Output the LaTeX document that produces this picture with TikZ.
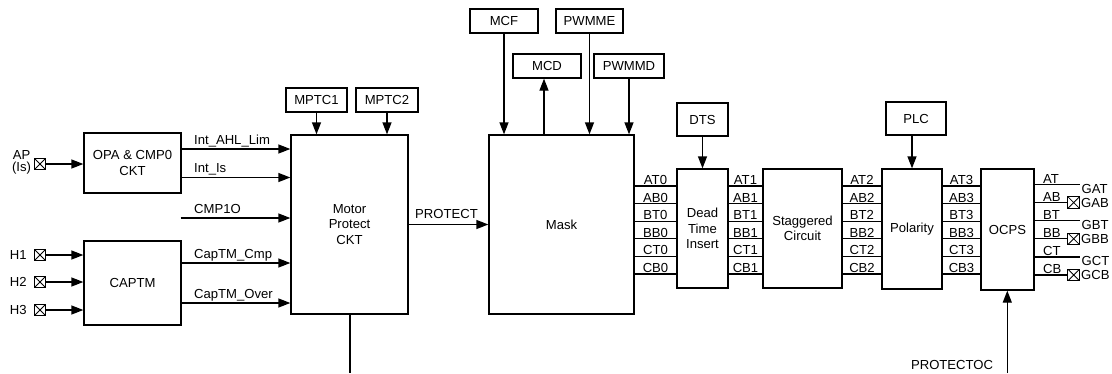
\documentclass[tikz,border=0pt]{standalone}
\usepackage{fontspec}
\setmainfont{Liberation Sans}
\usetikzlibrary{arrows.meta}
\begin{document}
\begin{tikzpicture}[x=1pt,y=-1pt,
  font=\fontsize{13.1}{15.3}\selectfont,
  ln/.style={line width=1.3pt},
  arr/.style={line width=1.3pt,-{Triangle[length=12pt,width=9pt]}},
  blk/.style={draw,line width=1.3pt,inner sep=0pt,align=center},
  lbl/.style={inner sep=0pt},
  xb/.style={draw,line width=1pt,minimum size=11.5pt,inner sep=0pt,
    path picture={\draw[line width=0.8pt] (path picture bounding box.north west) -- (path picture bounding box.south east)
      (path picture bounding box.north east) -- (path picture bounding box.south west);}}
]
\useasboundingbox (0,0) rectangle (1112,373);

% blocks
\node[blk,minimum width=97pt,minimum height=60pt] (opa) at (132.5,163) {OPA \& CMP0\\CKT};
\node[blk,minimum width=97pt,minimum height=84pt] (captm) at (132.5,283) {CAPTM};
\node[blk,minimum width=117pt,minimum height=179pt] (motor) at (349.5,224.5) {Motor\\Protect\\CKT};
\node[blk,minimum width=61pt,minimum height=24pt] (mptc1) at (316.5,100) {MPTC1};
\node[blk,minimum width=62pt,minimum height=24pt] (mptc2) at (387,100) {MPTC2};
\node[blk,minimum width=145pt,minimum height=179pt] (mask) at (561.5,224.5) {Mask};
\node[blk,minimum width=68pt,minimum height=24pt] (mcf) at (504,21) {MCF};
\node[blk,minimum width=67pt,minimum height=24pt] (pwmme) at (589.5,21) {PWMME};
\node[blk,minimum width=68pt,minimum height=24pt] (mcd) at (547,66) {MCD};
\node[blk,minimum width=70pt,minimum height=24pt] (pwmmd) at (629,66) {PWMMD};
\node[blk,minimum width=51pt,minimum height=33pt] (dts) at (702.5,119.5) {DTS};
\node[blk,minimum width=51pt,minimum height=119pt] (dead) at (702.5,228.5) {Dead\\Time\\Insert};
\node[blk,minimum width=79pt,minimum height=119pt] (stag) at (802.5,228.5) {Staggered\\Circuit};
\node[blk,minimum width=60pt,minimum height=33pt] (plc) at (916,118.5) {PLC};
\node[blk,minimum width=60pt,minimum height=120pt] (pol) at (912,229) {Polarity};
\node[blk,minimum width=53pt,minimum height=121pt] (ocps) at (1007.5,229.5) {OCPS};

% left inputs
\node[xb] (xap) at (40,164) {};
\node[lbl,align=center,font=\fontsize{13.1}{12}\selectfont] (tap) at (21.5,162) {AP\\(Is)};
\draw[arr] (xap.east) -- (xap.east -| opa.west);
\foreach \n/\y in {1/255,2/282,3/310}{
  \node[xb] (xh\n) at (40,\y) {};
  \node[lbl,anchor=east] (th\n) at ([xshift=-7pt]xh\n.west) {H\n};
  \draw[arr] (xh\n.east) -- (xh\n.east -| captm.west);
}

% signals into motor protect
\draw[arr] (opa.east |- 0,149) -- (motor.west |- 0,149);
\node[lbl,anchor=base west] (l1) at (194,144) {Int\_AHL\_Lim};
\draw[arr] (opa.east |- 0,177.5) -- (motor.west |- 0,177.5);
\node[lbl,anchor=base west] (l2) at (194,172.5) {Int\_Is};
\coordinate (cmp) at (180.5,218);
\draw[arr] (cmp) -- (cmp -| motor.west);
\node[lbl,anchor=base west] (l3) at (194,213) {CMP1O};
\draw[arr] (captm.east |- 0,263) -- (motor.west |- 0,263);
\node[lbl,anchor=base west] (l4) at (194,258) {CapTM\_Cmp};
\draw[arr] (captm.east |- 0,303) -- (motor.west |- 0,303);
\node[lbl,anchor=base west] (l5) at (194,298) {CapTM\_Over};

\draw[arr] (mptc1.south) -- (mptc1.south |- motor.north);
\draw[arr] (mptc2.south) -- (mptc2.south |- motor.north);
\coordinate (mbot) at (350,373);
\draw[ln] (motor.south -| mbot) -- (mbot);

% protect
\draw[arr] (motor.east) -- (mask.west);
\node[lbl,anchor=base west] (lp) at (415,218) {PROTECT};

% mask controls
\draw[arr] (mcf.south) -- (mcf.south |- mask.north);
\draw[arr] (mask.north -| 544,0) -- (mcd.south -| 544,0);
\draw[arr] (pwmme.south) -- (pwmme.south |- mask.north);
\draw[arr] (pwmmd.south) -- (pwmmd.south |- mask.north);
\draw[arr] (dts.south) -- (dead.north);
\draw[arr] (plc.south -| pol.north) -- (pol.north);

% signal buses
\foreach \i/\a in {0/AT,1/AB,2/BT,3/BB,4/CT,5/CB}{
  \pgfmathsetmacro\yy{186+17.6*\i}
  \draw[ln] (mask.east |- 0,\yy) -- node[lbl,anchor=base,yshift=1.5pt] (s0\i) {\a0} (dead.west |- 0,\yy);
  \draw[ln] (dead.east |- 0,\yy) -- node[lbl,anchor=base,yshift=1.5pt] (s1\i) {\a1} (stag.west |- 0,\yy);
  \draw[ln] (stag.east |- 0,\yy) -- node[lbl,anchor=base,yshift=1.5pt] (s2\i) {\a2} (pol.west |- 0,\yy);
  \draw[ln] (pol.east |- 0,\yy) -- node[lbl,anchor=base,yshift=1.5pt] (s3\i) {\a3} (ocps.west |- 0,\yy);
}

% OCPS outputs
\foreach \i/\a in {0/AT,2/BT,4/CT}{
  \pgfmathsetmacro\yy{184.5+18.1*\i}
  \coordinate (e\i) at (1080,\yy);
  \draw[ln] (ocps.east |- e\i) -- (e\i);
  \node[lbl,anchor=base west] (o\i) at (1043,\yy-1.5) {\a};
  \node[lbl,anchor=west] (g\i) at ([xshift=1.5pt,yshift=-4.5pt]e\i) {G\a};
}
\foreach \i/\a in {1/AB,3/BB,5/CB}{
  \pgfmathsetmacro\yy{184.5+18.1*\i}
  \node[xb] (x\i) at (1073.7,\yy) {};
  \draw[ln] (ocps.east |- x\i) -- (x\i.west);
  \node[lbl,anchor=base west] (o\i) at (1043,\yy-1.5) {\a};
  \node[lbl,anchor=west] (g\i) at ([xshift=1pt]x\i.east) {G\a};
}

% protectoc
\coordinate (pbot) at (1007.3,373);
\draw[arr] (pbot) -- (pbot |- ocps.south);
\node[lbl,anchor=base east] (lpo) at (993.3,369) {PROTECTOC};
\end{tikzpicture}
\end{document}
